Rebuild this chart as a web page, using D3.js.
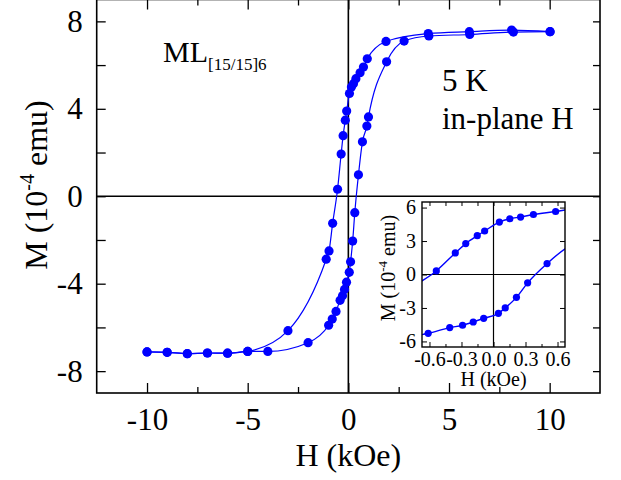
<!DOCTYPE html>
<html>
<head>
<meta charset="utf-8">
<script src="https://cdn.jsdelivr.net/npm/d3@7"></script>
<style>
  body { margin: 0; background: #fff; }
  svg text { font-family: "Liberation Serif", "Times New Roman", serif; fill: #000; }
</style>
</head>
<body>
<div id="chart"></div>
<script>
// sweep from +10 kOe down to -10 kOe
var upH = [10.02, 8.11, 6.01, 3.97, 1.87, 0.94, 0.75, 0.582, 0.374, 0.254, 0.153, 0.055, -0.083, -0.152, -0.26, -0.358, -0.536, -0.78, -0.96, -1.1, -3.0, -5.0, -6.0, -7.0, -8.0, -9.0, -10.0]
var upM = [7.53, 7.6, 7.53, 7.44, 7.08, 6.29, 5.91, 5.65, 5.38, 5.15, 5.0, 4.7, 3.9, 3.48, 2.77, 1.93, 0.32, -1.24, -2.5, -2.88, -6.15, -7.1, -7.18, -7.17, -7.2, -7.14, -7.12]
// sweep back from -10 kOe up to +10 kOe
var lowH = [-10.0, -9.0, -8.0, -7.0, -6.0, -5.0, -4.0, -2.0, -0.98, -0.8, -0.612, -0.41, -0.29, -0.19, -0.092, 0.046, 0.11, 0.215, 0.32, 0.502, 0.7, 0.92, 1.0, 1.9, 2.77, 4.0, 6.03, 8.2, 10.02]
var lowM = [-7.12, -7.14, -7.2, -7.17, -7.18, -7.1, -7.1, -6.7, -5.9, -5.62, -5.27, -4.76, -4.55, -4.26, -3.93, -3.48, -3.0, -2.05, -0.75, 0.98, 2.49, 3.21, 3.63, 6.15, 7.1, 7.33, 7.4, 7.51, 7.53]

var xTicks = [-10, -5, 0, 5, 10]
var xMinor = [-7.5, -2.5, 2.5, 7.5]
var yTicks = [-8, -4, 0, 4, 8]
var yMinor = [-6, -2, 2, 6]
var insetXTicks = [-0.6, -0.3, 0, 0.3, 0.6]
var insetXMinor = [-0.45, -0.15, 0.15, 0.45]
var insetYTicks = [-6, -3, 0, 3, 6]

var blue = "#0000ff"
var font = 31

function pts(hs, ms) {
    return hs.map((h, i) => ({ h: h, m: ms[i] }))
}
var upper = pts(upH, upM)
var lower = pts(lowH, lowM)

var svg = d3.select("#chart").append("svg")
    .attr("width", 621)
    .attr("height", 480)

svg.append("rect").attr("width", 621).attr("height", 480).attr("fill", "#fff")

// main scales
var x = d3.scaleLinear().domain([-12.5, 12.5]).range([96.7, 600])
var y = d3.scaleLinear().domain([-9, 9]).range([393, -0.5])

svg.append("clipPath").attr("id", "clipMain")
    .append("rect")
    .attr("x", x(-12.5)).attr("y", y(9))
    .attr("width", x(12.5) - x(-12.5)).attr("height", y(-9) - y(9))

// axes, ticks inward
function cleanAxis(g) {
    g.select(".domain").remove()
    g.selectAll(".tick line").attr("stroke", "#000").attr("stroke-width", 1.3)
}
svg.append("g")
    .attr("transform", "translate(0," + y(-9) + ")")
    .call(d3.axisBottom(x).tickValues(xTicks).tickSize(-10).tickPadding(15).tickFormat(d => String(d)))
    .call(cleanAxis)
    .selectAll("text").style("font-size", font + "px")
svg.append("g")
    .attr("transform", "translate(0," + y(-9) + ")")
    .call(d3.axisBottom(x).tickValues(xMinor).tickSize(-6).tickFormat(""))
    .call(cleanAxis)
svg.append("g")
    .attr("transform", "translate(0," + y(9) + ")")
    .call(d3.axisTop(x).tickValues(xTicks).tickSize(-10).tickFormat(""))
    .call(cleanAxis)
svg.append("g")
    .attr("transform", "translate(0," + y(9) + ")")
    .call(d3.axisTop(x).tickValues(xMinor).tickSize(-6).tickFormat(""))
    .call(cleanAxis)
svg.append("g")
    .attr("transform", "translate(" + x(-12.5) + ",0)")
    .call(d3.axisLeft(y).tickValues(yTicks).tickSize(-9).tickPadding(14).tickFormat(d => String(d)))
    .call(cleanAxis)
    .selectAll("text").style("font-size", font + "px")
svg.append("g")
    .attr("transform", "translate(" + x(-12.5) + ",0)")
    .call(d3.axisLeft(y).tickValues(yMinor).tickSize(-9).tickFormat(""))
    .call(cleanAxis)
svg.append("g")
    .attr("transform", "translate(" + x(12.5) + ",0)")
    .call(d3.axisRight(y).tickValues(yTicks.concat(yMinor)).tickSize(-7).tickFormat(""))
    .call(cleanAxis)

// frame and zero lines
svg.append("rect")
    .attr("x", x(-12.5)).attr("y", y(9))
    .attr("width", x(12.5) - x(-12.5)).attr("height", y(-9) - y(9))
    .attr("fill", "none").attr("stroke", "#000").attr("stroke-width", 1.6)
svg.append("line")
    .attr("x1", x(0)).attr("x2", x(0)).attr("y1", y(9)).attr("y2", y(-9))
    .attr("stroke", "#000").attr("stroke-width", 1.6)
svg.append("line")
    .attr("x1", x(-12.5)).attr("x2", x(12.5)).attr("y1", y(0)).attr("y2", y(0))
    .attr("stroke", "#000").attr("stroke-width", 1.6)

// loop
var line = d3.line().x(d => x(d.h)).y(d => y(d.m)).curve(d3.curveMonotoneX)
var plot = svg.append("g").attr("clip-path", "url(#clipMain)")
;[upper, lower].forEach(branch => {
    plot.append("path")
        .datum(branch)
        .attr("fill", "none")
        .attr("stroke", blue)
        .attr("stroke-width", 1.2)
        .attr("d", line)
    plot.selectAll(null)
        .data(branch)
        .enter()
        .append("circle")
        .attr("cx", d => x(d.h))
        .attr("cy", d => y(d.m))
        .attr("r", 4.6)
        .attr("fill", blue)
})

// axis titles
svg.append("text")
    .attr("x", x(0))
    .attr("y", 466)
    .attr("text-anchor", "middle")
    .style("font-size", "32px")
    .text("H (kOe)")
var yt = svg.append("text")
    .attr("transform", "translate(47,185) rotate(-90)")
    .attr("text-anchor", "middle")
    .style("font-size", "32px")
yt.append("tspan").text("M (10")
yt.append("tspan").attr("dy", -13).style("font-size", "20px").text("-4")
yt.append("tspan").attr("dy", 13).text(" emu)")

// annotations
var ml = svg.append("text").attr("x", 163).attr("y", 62).style("font-size", "30px")
ml.append("tspan").text("ML")
ml.append("tspan").attr("dy", 8).style("font-size", "17px").text("[15/15]6")
svg.append("text").attr("x", 442).attr("y", 91).style("font-size", "31px").text("5 K")
svg.append("text").attr("x", 442).attr("y", 129).style("font-size", "31px").text("in-plane H")

// inset: zoom on the low field part
var ix = d3.scaleLinear().domain([-0.67, 0.67]).range([422, 565])
var iy = d3.scaleLinear().domain([-6.5, 6.5]).range([347, 202])
var inset = svg.append("g")

inset.append("rect")
    .attr("x", ix(-0.67)).attr("y", iy(6.5))
    .attr("width", ix(0.67) - ix(-0.67)).attr("height", iy(-6.5) - iy(6.5))
    .attr("fill", "#fff")
svg.append("clipPath").attr("id", "clipInset")
    .append("rect")
    .attr("x", ix(-0.67)).attr("y", iy(6.5))
    .attr("width", ix(0.67) - ix(-0.67)).attr("height", iy(-6.5) - iy(6.5))

function smallAxis(g) {
    g.select(".domain").remove()
    g.selectAll(".tick line").attr("stroke", "#000").attr("stroke-width", 1)
    g.selectAll("text").style("font-size", "20px")
}
inset.append("g")
    .attr("transform", "translate(0," + iy(-6.5) + ")")
    .call(d3.axisBottom(ix).tickValues(insetXTicks).tickSize(-5).tickPadding(5).tickFormat(d => d.toFixed(1)))
    .call(smallAxis)
inset.append("g")
    .attr("transform", "translate(0," + iy(-6.5) + ")")
    .call(d3.axisBottom(ix).tickValues(insetXMinor).tickSize(-3).tickFormat(""))
    .call(smallAxis)
inset.append("g")
    .attr("transform", "translate(0," + iy(6.5) + ")")
    .call(d3.axisTop(ix).tickValues(insetXTicks.concat(insetXMinor)).tickSize(-4).tickFormat(""))
    .call(smallAxis)
inset.append("g")
    .attr("transform", "translate(" + ix(-0.67) + ",0)")
    .call(d3.axisLeft(iy).tickValues(insetYTicks).tickSize(-5).tickPadding(6).tickFormat(d => String(d)))
    .call(smallAxis)
inset.append("g")
    .attr("transform", "translate(" + ix(0.67) + ",0)")
    .call(d3.axisRight(iy).tickValues(insetYTicks).tickSize(-5).tickFormat(""))
    .call(smallAxis)

inset.append("line")
    .attr("x1", ix(0)).attr("x2", ix(0)).attr("y1", iy(6.5)).attr("y2", iy(-6.5))
    .attr("stroke", "#000").attr("stroke-width", 1.2)
inset.append("line")
    .attr("x1", ix(-0.67)).attr("x2", ix(0.67)).attr("y1", iy(0)).attr("y2", iy(0))
    .attr("stroke", "#000").attr("stroke-width", 1.2)

var iline = d3.line().x(d => ix(d.h)).y(d => iy(d.m)).curve(d3.curveMonotoneX)
var iplot = inset.append("g").attr("clip-path", "url(#clipInset)")
;[upper, lower].forEach(branch => {
    iplot.append("path")
        .datum(branch)
        .attr("fill", "none")
        .attr("stroke", blue)
        .attr("stroke-width", 1.4)
        .attr("d", iline)
    iplot.selectAll(null)
        .data(branch.filter(d => Math.abs(d.h) < 0.67))
        .enter()
        .append("circle")
        .attr("cx", d => ix(d.h))
        .attr("cy", d => iy(d.m))
        .attr("r", 3.6)
        .attr("fill", blue)
})

inset.append("rect")
    .attr("x", ix(-0.67)).attr("y", iy(6.5))
    .attr("width", ix(0.67) - ix(-0.67)).attr("height", iy(-6.5) - iy(6.5))
    .attr("fill", "none").attr("stroke", "#000").attr("stroke-width", 1.4)

inset.append("text")
    .attr("x", ix(0))
    .attr("y", 386)
    .attr("text-anchor", "middle")
    .style("font-size", "20px")
    .text("H (kOe)")
var iyt = inset.append("text")
    .attr("transform", "translate(395,268) rotate(-90)")
    .attr("text-anchor", "middle")
    .style("font-size", "20px")
iyt.append("tspan").text("M (10")
iyt.append("tspan").attr("dy", -8).style("font-size", "13px").text("-4")
iyt.append("tspan").attr("dy", 8).text(" emu)")
</script>
</body>
</html>
